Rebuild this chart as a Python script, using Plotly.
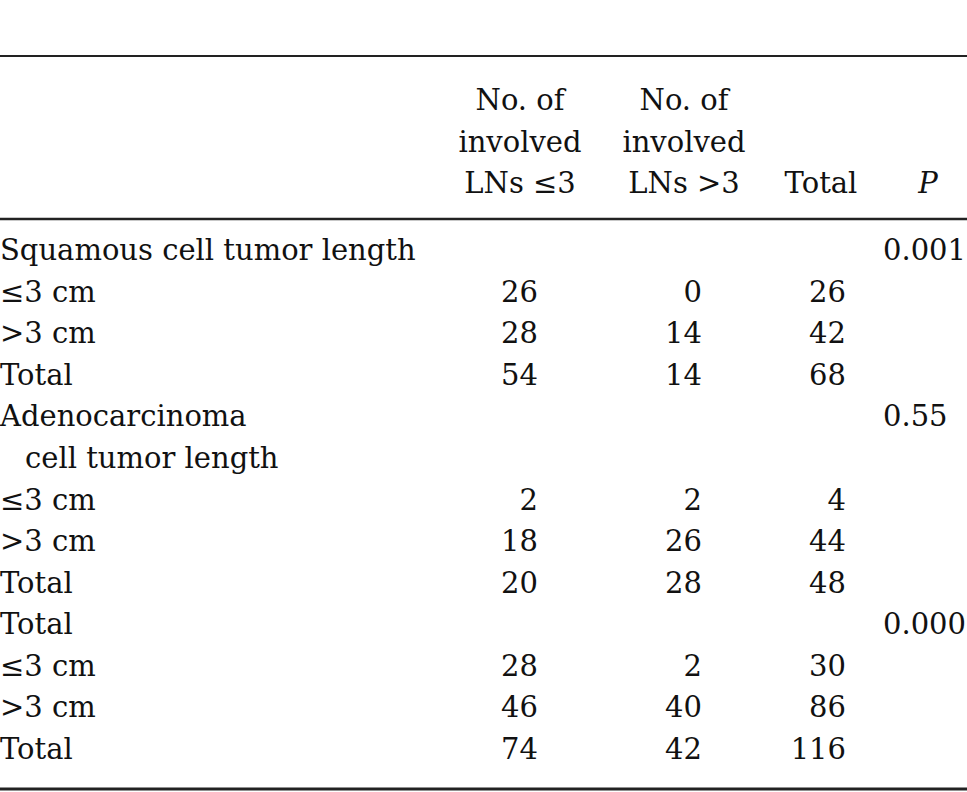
import plotly.graph_objects as go

# ---------------------------------------------------------------------------
# Table data
# ---------------------------------------------------------------------------

header_labels = [
    "No. of<br>involved<br>LNs ≤3",
    "No. of<br>involved<br>LNs >3",
    "Total",
    "<i>P</i>",
]

row_labels = [
    "Squamous cell tumor length",
    "≤3 cm",
    ">3 cm",
    "Total",
    "Adenocarcinoma",
    "cell tumor length",
    "≤3 cm",
    ">3 cm",
    "Total",
    "Total",
    "≤3 cm",
    ">3 cm",
    "Total",
]

lns_le3 = ["", "26", "28", "54", "", "", "2", "18", "20", "", "28", "46", "74"]
lns_gt3 = ["", "0", "14", "14", "", "", "2", "26", "28", "", "2", "40", "42"]
totals = ["", "26", "42", "68", "", "", "4", "44", "48", "", "30", "86", "116"]
p_values = ["0.001", "", "", "", "0.55", "", "", "", "", "0.000", "", "", ""]

# ---------------------------------------------------------------------------
# Layout constants (pixel-like coordinates)
# ---------------------------------------------------------------------------

W, H = 967, 792
FONT = "DejaVu Serif"
SIZE = 29
INK = "#111111"
LINE_H = 41.55

row_y = [253 + i * LINE_H for i in range(len(row_labels))]
label_x = [25 if lab == "cell tumor length" else 0 for lab in row_labels]
header_x = [520, 684, 821, 928]
header_bottom = 186

fig = go.Figure()


def text_col(x, y, text, pos):
    fig.add_trace(
        go.Scatter(
            x=x,
            y=y,
            text=text,
            mode="text",
            textposition=pos,
            textfont={"family": FONT, "size": SIZE, "color": INK},
            hoverinfo="skip",
            showlegend=False,
        )
    )


# header: each line placed on the table's own line pitch, bottom-aligned
hx, hy, ht = [], [], []
for x, label in zip(header_x, header_labels):
    parts = label.split("<br>")
    for k, part in enumerate(parts):
        hx.append(x)
        hy.append(header_bottom - (len(parts) - 1 - k) * LINE_H)
        ht.append(part)
text_col(hx, hy, ht, "middle center")

# body
text_col(label_x, row_y, row_labels, "middle right")
text_col([538] * len(row_y), row_y, lns_le3, "middle left")
text_col([702] * len(row_y), row_y, lns_gt3, "middle left")
text_col([846] * len(row_y), row_y, totals, "middle left")
text_col([883] * len(row_y), row_y, p_values, "middle right")

rules = [(56, 2), (219, 2.5), (789, 3)]
for y, w in rules:
    fig.add_shape(
        type="line", x0=0, x1=W, y0=y, y1=y,
        line={"color": "#222222", "width": w},
    )

fig.update_xaxes(range=[0, W], visible=False, fixedrange=True)
fig.update_yaxes(range=[H, 0], visible=False, fixedrange=True)
fig.update_layout(
    width=W,
    height=H,
    margin={"l": 0, "r": 0, "t": 0, "b": 0},
    paper_bgcolor="white",
    plot_bgcolor="white",
)

fig.write_html(
    "out.html",
    config={"displayModeBar": False},
    post_script="document.body.style.margin = '0';",
)
